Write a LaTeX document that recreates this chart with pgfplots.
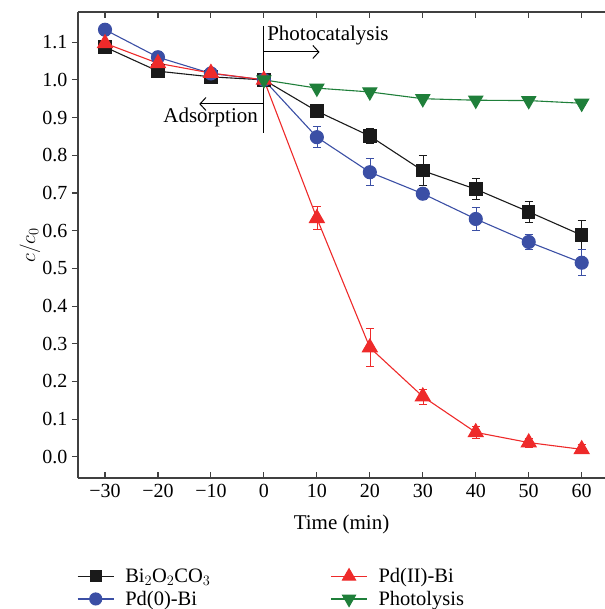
\documentclass[border=0pt]{standalone}
\usepackage{pgfplots}
\pgfplotsset{compat=1.18}
\usetikzlibrary{arrows.meta}
\usepackage{fontspec}
\setmainfont{Liberation Serif}
\definecolor{cblk}{HTML}{1A1A1A}
\definecolor{cblu}{HTML}{3B4FA5}
\definecolor{cred}{HTML}{EE2A2A}
\definecolor{cgrn}{HTML}{1F7F3A}
\definecolor{caxis}{HTML}{404040}
\pgfplotstableread{
x y e
-30 1.087 0.008
-20 1.023 0.010
-10 1.008 0.008
0 1.000 0.000
10 0.917 0.012
20 0.851 0.020
30 0.759 0.040
40 0.710 0.028
50 0.650 0.027
60 0.588 0.038
}\tblk
\pgfplotstableread{
x y e
-30 1.133 0.012
-20 1.060 0.015
-10 1.017 0.010
0 1.000 0.000
10 0.848 0.028
20 0.755 0.036
30 0.698 0.015
40 0.631 0.031
50 0.570 0.020
60 0.515 0.035
}\tblu
\pgfplotstableread{
x y e
-30 1.097 0.020
-20 1.044 0.020
-10 1.018 0.010
0 1.000 0.000
10 0.633 0.030
20 0.290 0.050
30 0.160 0.020
40 0.065 0.015
50 0.038 0.012
60 0.020 0.012
}\tred
\pgfplotstableread{
x y
0 1.000
10 0.978
20 0.968
30 0.950
40 0.946
50 0.945
60 0.938
}\tgrn
\begin{document}
\begin{tikzpicture}[font=\fontsize{20bp}{23bp}\selectfont]
\begin{axis}[
  name=ax,
  scale only axis,
  width=527bp, height=466bp,
  xmin=-35.1, xmax=64.4,
  ymin=-0.056, ymax=1.18,
  clip=false,
  axis y line*=left,
  axis x line*=box,
  axis line style={caxis, line width=1.2bp},
  every tick/.style={caxis, line width=1.1bp},
  xtick={-30,-20,...,60},
  xticklabels={−30,−20,−10,0,10,20,30,40,50,60},
  ytick={0,0.1,...,1.1},
  yticklabels={0.0,0.1,0.2,0.3,0.4,0.5,0.6,0.7,0.8,0.9,1.0,1.1},
  xtick align=inside,
  ytick align=outside,
  major tick length=6bp,
  xticklabel style={yshift=-3bp},
  yticklabel style={xshift=-1bp},
  xlabel={Time (min)},
  ylabel={$c/c_0$},
  every axis x label/.style={at={(axis description cs:0.5,0)}, yshift=-46bp, anchor=center, font=\fontsize{21bp}{24bp}\selectfont},
  every axis y label/.style={at={(axis description cs:0,0.5)}, xshift=-48bp, rotate=90, anchor=center},
  legend columns=2,
  legend cell align=left,
  legend style={at={(axis description cs:0,-0.185)}, anchor=north west, draw=none, fill=none, xshift=-4bp,
    /tikz/every odd column/.append style={column sep=9bp},
    /tikz/every even column/.append style={column sep=118bp}, row sep=3bp,
    font=\fontsize{20.5bp}{23bp}\selectfont},
  legend image code/.code={\draw[mark repeat=2,mark phase=2] plot coordinates {(0bp,0bp) (18bp,0bp) (36bp,0bp)};},
  error bars/error mark options={rotate=90, mark size=4bp, line width=1bp},
]
\addplot[forget plot, cblk, line width=1.1bp, mark=square*, mark size=6.2bp, mark options={solid, fill=cblk},
  error bars/.cd, y dir=both, y explicit] table[x=x, y=y, y error=e] {\tblk};
\addplot[forget plot, cblu, line width=1.1bp, mark=*, mark size=6.5bp, mark options={solid, fill=cblu},
  error bars/.cd, y dir=both, y explicit] table[x=x, y=y, y error=e] {\tblu};
\addplot[forget plot, cred, line width=1.1bp, mark=triangle*, mark size=8.5bp, mark options={solid, fill=cred},
  error bars/.cd, y dir=both, y explicit] table[x=x, y=y, y error=e] {\tred};
\addplot[forget plot, cgrn, line width=1.1bp, mark=triangle*, mark size=8bp, mark options={solid, fill=cgrn, rotate=180}]
  table[x=x, y=y] {\tgrn};
\addlegendimage{cblk, line width=1.1bp, mark=square*, mark size=5.5bp, mark options={solid, fill=cblk}}
\addlegendentry{Bi$_2$O$_2$CO$_3$}
\addlegendimage{cred, line width=1.1bp, mark=triangle*, mark size=7.5bp, mark options={solid, fill=cred}}
\addlegendentry{Pd(II)-Bi}
\addlegendimage{cblu, line width=1.1bp, mark=*, mark size=6bp, mark options={solid, fill=cblu}}
\addlegendentry{Pd(0)-Bi}
\addlegendimage{cgrn, line width=1.1bp, mark=triangle*, mark size=7.5bp, mark options={solid, fill=cgrn, rotate=180}}
\addlegendentry{Photolysis}
\draw[black, line width=1bp] (axis cs:0,1.143) -- (axis cs:0,0.859);
\draw[black, line width=1bp, -{Straight Barb[length=6bp, width=13bp]}] (axis cs:0,1.074) -- (axis cs:10.5,1.074);
\draw[black, line width=1bp, -{Straight Barb[length=6bp, width=13bp]}] (axis cs:0,0.936) -- (axis cs:-12.2,0.936);
\node[anchor=west, inner sep=0pt, font=\fontsize{21bp}{24bp}\selectfont] at (axis cs:0.6,1.119) {Photocatalysis};
\node[anchor=east, inner sep=0pt, font=\fontsize{21bp}{24bp}\selectfont] at (axis cs:-1.1,0.899) {Adsorption};
\end{axis}
\pgfresetboundingbox
\path ([shift={(-78bp,-131bp)}]ax.south west) rectangle ([shift={(0bp,12bp)}]ax.north east);
\end{tikzpicture}
\end{document}
